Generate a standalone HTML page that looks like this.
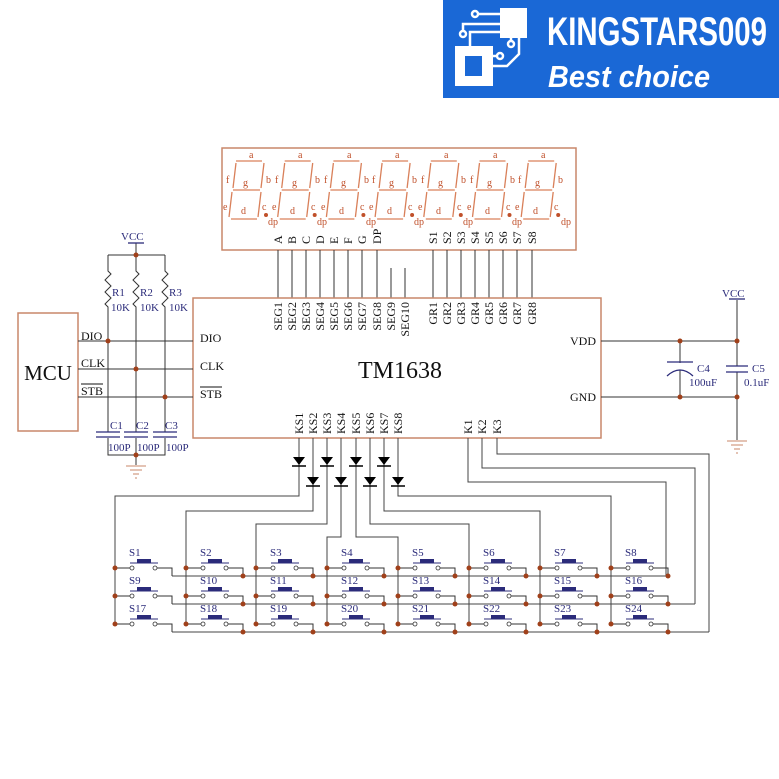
<!DOCTYPE html>
<html><head><meta charset="utf-8"><style>
html,body{margin:0;padding:0;background:#fff;}
svg{display:block;}
.s{font-family:"Liberation Serif",serif;}
</style></head><body>
<svg width="779" height="779" viewBox="0 0 779 779" xmlns="http://www.w3.org/2000/svg">
<defs>
<g id="dg" fill="none" stroke="#d9805a" stroke-width="1.3">
<line x1="236" y1="161" x2="262" y2="161"/>
<line x1="264" y1="163" x2="261" y2="188"/>
<line x1="236" y1="163" x2="233" y2="188"/>
<line x1="233" y1="190" x2="260" y2="190"/>
<line x1="232" y1="192" x2="229" y2="217"/>
<line x1="261" y1="192" x2="258" y2="217"/>
<line x1="231" y1="219" x2="257" y2="219"/>
<circle cx="266" cy="215" r="2" fill="#c0502a" stroke="none"/>
</g>
<g id="sw">
<line x1="0" y1="0" x2="15" y2="0" stroke="#333" stroke-width="1"/>
<circle cx="17" cy="0" r="2" fill="#fff" stroke="#333" stroke-width="0.8"/>
<circle cx="40" cy="0" r="2" fill="#fff" stroke="#333" stroke-width="0.8"/>
<polyline points="42,0 57,0 57,8" fill="none" stroke="#333" stroke-width="1"/>
<rect x="22" y="-9" width="14" height="3.5" fill="#2b2b7a"/>
<line x1="15" y1="-5" x2="43" y2="-5" stroke="#2b2b7a" stroke-width="1"/>
<circle cx="0" cy="0" r="2.5" fill="#a0401a"/>
</g>
<g id="dd">
<polygon points="-6,-5 6,-5 0,3" fill="#000"/>
<line x1="-7" y1="4" x2="7" y2="4" stroke="#000" stroke-width="1.5"/>
</g>
</defs>

<!-- logo -->
<rect x="443" y="0" width="336" height="98" fill="#1a68d6"/>
<rect x="500" y="8" width="27" height="30" fill="#fff"/>
<rect x="455" y="46" width="38" height="40" fill="#fff"/>
<rect x="465" y="56" width="17" height="20" fill="#1a68d6"/>
<g fill="none" stroke="#fff" stroke-width="2.5">
<polyline points="478,14 500,14"/><circle cx="475" cy="14" r="3"/>
<polyline points="463,30 463,24 500,24"/><circle cx="463" cy="34" r="3"/>
<polyline points="470,46 470,32 500,32"/>
<polyline points="511,38 511,42"/><circle cx="511" cy="44" r="3"/>
<polyline points="493,66 507,66 519,54 519,38"/>
<polyline points="493,56 497,56"/><circle cx="500" cy="56" r="3"/>
</g>
<text x="547" y="45" font-family="'Liberation Sans Narrow','Liberation Sans',sans-serif" font-weight="bold" font-size="40" fill="#fff" textLength="220" lengthAdjust="spacingAndGlyphs">KINGSTARS009</text>
<text x="548" y="87" font-family="'Liberation Sans',sans-serif" font-weight="bold" font-style="italic" font-size="31" fill="#fff" textLength="162" lengthAdjust="spacingAndGlyphs">Best choice</text>

<!-- display -->
<rect x="222" y="148" width="354" height="102" fill="none" stroke="#c9876a" stroke-width="1.5"/>
<use href="#dg"/><use href="#dg" x="48.7"/><use href="#dg" x="97.4"/><use href="#dg" x="146.1"/><use href="#dg" x="194.8"/><use href="#dg" x="243.5"/><use href="#dg" x="292.2"/>
<g class="s" font-size="10" fill="#c0502a">
<text x="249" y="158">a</text><text x="226" y="183">f</text><text x="266" y="183">b</text><text x="243" y="186">g</text><text x="223" y="210">e</text><text x="262" y="210">c</text><text x="241" y="214">d</text><text x="268" y="225">dp</text>
<text x="298" y="158">a</text><text x="275" y="183">f</text><text x="315" y="183">b</text><text x="292" y="186">g</text><text x="272" y="210">e</text><text x="311" y="210">c</text><text x="290" y="214">d</text><text x="317" y="225">dp</text>
<text x="347" y="158">a</text><text x="324" y="183">f</text><text x="364" y="183">b</text><text x="341" y="186">g</text><text x="321" y="210">e</text><text x="360" y="210">c</text><text x="339" y="214">d</text><text x="366" y="225">dp</text>
<text x="395" y="158">a</text><text x="372" y="183">f</text><text x="412" y="183">b</text><text x="389" y="186">g</text><text x="369" y="210">e</text><text x="408" y="210">c</text><text x="387" y="214">d</text><text x="414" y="225">dp</text>
<text x="444" y="158">a</text><text x="421" y="183">f</text><text x="461" y="183">b</text><text x="438" y="186">g</text><text x="418" y="210">e</text><text x="457" y="210">c</text><text x="436" y="214">d</text><text x="463" y="225">dp</text>
<text x="493" y="158">a</text><text x="470" y="183">f</text><text x="510" y="183">b</text><text x="487" y="186">g</text><text x="467" y="210">e</text><text x="506" y="210">c</text><text x="485" y="214">d</text><text x="512" y="225">dp</text>
<text x="541" y="158">a</text><text x="518" y="183">f</text><text x="558" y="183">b</text><text x="535" y="186">g</text><text x="515" y="210">e</text><text x="554" y="210">c</text><text x="533" y="214">d</text><text x="561" y="225">dp</text>
</g>
<g class="s" font-size="12" fill="#111">
<text transform="translate(282,244) rotate(-90)">A</text>
<text transform="translate(296,244) rotate(-90)">B</text>
<text transform="translate(310,244) rotate(-90)">C</text>
<text transform="translate(324,244) rotate(-90)">D</text>
<text transform="translate(338,244) rotate(-90)">E</text>
<text transform="translate(352,244) rotate(-90)">F</text>
<text transform="translate(366,244) rotate(-90)">G</text>
<text transform="translate(381,244) rotate(-90)">DP</text>
<text transform="translate(437,244) rotate(-90)">S1</text>
<text transform="translate(451,244) rotate(-90)">S2</text>
<text transform="translate(465,244) rotate(-90)">S3</text>
<text transform="translate(479,244) rotate(-90)">S4</text>
<text transform="translate(493,244) rotate(-90)">S5</text>
<text transform="translate(507,244) rotate(-90)">S6</text>
<text transform="translate(521,244) rotate(-90)">S7</text>
<text transform="translate(536,244) rotate(-90)">S8</text>
</g>
<g stroke="#333" stroke-width="1">
<line x1="278" y1="250" x2="278" y2="298"/><line x1="292" y1="250" x2="292" y2="298"/><line x1="306" y1="250" x2="306" y2="298"/><line x1="320" y1="250" x2="320" y2="298"/><line x1="334" y1="250" x2="334" y2="298"/><line x1="348" y1="250" x2="348" y2="298"/><line x1="362" y1="250" x2="362" y2="298"/><line x1="377" y1="250" x2="377" y2="298"/>
<line x1="391" y1="268" x2="391" y2="298"/><line x1="405" y1="268" x2="405" y2="298"/>
<line x1="433" y1="250" x2="433" y2="298"/><line x1="447" y1="250" x2="447" y2="298"/><line x1="461" y1="250" x2="461" y2="298"/><line x1="475" y1="250" x2="475" y2="298"/><line x1="489" y1="250" x2="489" y2="298"/><line x1="503" y1="250" x2="503" y2="298"/><line x1="517" y1="250" x2="517" y2="298"/><line x1="532" y1="250" x2="532" y2="298"/>
</g>

<!-- chip -->
<rect x="193" y="298" width="408" height="140" fill="none" stroke="#c9876a" stroke-width="1.5"/>
<g class="s" font-size="12" fill="#111" text-anchor="end">
<text transform="translate(282,302) rotate(-90)">SEG1</text>
<text transform="translate(296,302) rotate(-90)">SEG2</text>
<text transform="translate(310,302) rotate(-90)">SEG3</text>
<text transform="translate(324,302) rotate(-90)">SEG4</text>
<text transform="translate(338,302) rotate(-90)">SEG5</text>
<text transform="translate(352,302) rotate(-90)">SEG6</text>
<text transform="translate(366,302) rotate(-90)">SEG7</text>
<text transform="translate(381,302) rotate(-90)">SEG8</text>
<text transform="translate(395,302) rotate(-90)">SEG9</text>
<text transform="translate(409,302) rotate(-90)">SEG10</text>
<text transform="translate(437,302) rotate(-90)">GR1</text>
<text transform="translate(451,302) rotate(-90)">GR2</text>
<text transform="translate(465,302) rotate(-90)">GR3</text>
<text transform="translate(479,302) rotate(-90)">GR4</text>
<text transform="translate(493,302) rotate(-90)">GR5</text>
<text transform="translate(507,302) rotate(-90)">GR6</text>
<text transform="translate(521,302) rotate(-90)">GR7</text>
<text transform="translate(536,302) rotate(-90)">GR8</text>
</g>
<g class="s" font-size="12" fill="#111">
<text transform="translate(303,434) rotate(-90)">KS1</text>
<text transform="translate(317,434) rotate(-90)">KS2</text>
<text transform="translate(331,434) rotate(-90)">KS3</text>
<text transform="translate(345,434) rotate(-90)">KS4</text>
<text transform="translate(360,434) rotate(-90)">KS5</text>
<text transform="translate(374,434) rotate(-90)">KS6</text>
<text transform="translate(388,434) rotate(-90)">KS7</text>
<text transform="translate(402,434) rotate(-90)">KS8</text>
<text transform="translate(472,434) rotate(-90)">K1</text>
<text transform="translate(486,434) rotate(-90)">K2</text>
<text transform="translate(501,434) rotate(-90)">K3</text>
<text x="200" y="342">DIO</text><text x="200" y="370">CLK</text><text x="200" y="398">STB</text>
<text x="81" y="340">DIO</text><text x="81" y="367">CLK</text><text x="81" y="395">STB</text>
<text x="570" y="345">VDD</text><text x="570" y="401">GND</text>
</g>
<line x1="200" y1="387" x2="222" y2="387" stroke="#111"/><line x1="81" y1="384" x2="103" y2="384" stroke="#111"/>
<text x="400" y="378" class="s" font-size="24" text-anchor="middle" fill="#111">TM1638</text>

<!-- MCU -->
<rect x="18" y="313" width="60" height="118" fill="none" stroke="#c9876a" stroke-width="1.5"/>
<text x="48" y="380" class="s" font-size="21" text-anchor="middle" fill="#111">MCU</text>
<g stroke="#333" stroke-width="1" fill="none">
<line x1="78" y1="341" x2="193" y2="341"/><line x1="78" y1="369" x2="193" y2="369"/><line x1="78" y1="397" x2="193" y2="397"/>
<line x1="136" y1="243" x2="136" y2="255"/><line x1="108" y1="255" x2="165" y2="255"/>
<polyline points="108,255 108,271 111,274 105,280 111,286 105,292 111,298 105,304 108,307 108,432"/>
<polyline points="136,255 136,271 139,274 133,280 139,286 133,292 139,298 133,304 136,307 136,432"/>
<polyline points="165,255 165,271 168,274 162,280 168,286 162,292 168,298 162,304 165,307 165,432"/>
<polyline points="108,438 108,455 165,455 165,438"/><line x1="136" y1="438" x2="136" y2="465"/>
</g>
<g stroke="#2b2b7a" stroke-width="1.3">
<line x1="128" y1="243" x2="144" y2="243"/>
<line x1="96" y1="432" x2="120" y2="432"/><line x1="96" y1="437" x2="120" y2="437"/>
<line x1="124" y1="432" x2="148" y2="432"/><line x1="124" y1="437" x2="148" y2="437"/>
<line x1="153" y1="432" x2="177" y2="432"/><line x1="153" y1="437" x2="177" y2="437"/>
</g>
<g stroke="#c9876a" stroke-width="1"><line x1="126" y1="466" x2="146" y2="466"/><line x1="130" y1="470" x2="142" y2="470"/><line x1="133" y1="474" x2="139" y2="474"/><line x1="135" y1="478" x2="137" y2="478"/></g>
<g fill="#a0401a"><circle cx="136" cy="255" r="2.5"/><circle cx="108" cy="341" r="2.5"/><circle cx="136" cy="369" r="2.5"/><circle cx="165" cy="397" r="2.5"/><circle cx="136" cy="455" r="2.5"/></g>
<g class="s" font-size="11" fill="#2b2b7a">
<text x="121" y="240">VCC</text>
<text x="112" y="296">R1</text><text x="140" y="296">R2</text><text x="169" y="296">R3</text>
<text x="111" y="311">10K</text><text x="140" y="311">10K</text><text x="169" y="311">10K</text>
<text x="110" y="429">C1</text><text x="136" y="429">C2</text><text x="165" y="429">C3</text>
<text x="108" y="451">100P</text><text x="137" y="451">100P</text><text x="166" y="451">100P</text>
<text x="722" y="297">VCC</text>
<text x="697" y="372">C4</text><text x="689" y="386">100uF</text>
<text x="752" y="372">C5</text><text x="744" y="386">0.1uF</text>
</g>

<!-- right power -->
<g stroke="#333" stroke-width="1" fill="none">
<line x1="601" y1="341" x2="737" y2="341"/><line x1="601" y1="397" x2="737" y2="397"/>
<line x1="737" y1="300" x2="737" y2="366"/><line x1="737" y1="372" x2="737" y2="440"/>
<line x1="680" y1="341" x2="680" y2="363"/><line x1="680" y1="370" x2="680" y2="397"/>
</g>
<g stroke="#2b2b7a" stroke-width="1.3" fill="none">
<line x1="729" y1="299" x2="745" y2="299"/>
<line x1="667" y1="362" x2="693" y2="362"/><path d="M667,376 Q680,364 693,376"/>
<line x1="726" y1="366" x2="748" y2="366"/><line x1="726" y1="372" x2="748" y2="372"/>
</g>
<g stroke="#c9876a" stroke-width="1"><line x1="727" y1="441" x2="747" y2="441"/><line x1="731" y1="445" x2="743" y2="445"/><line x1="734" y1="449" x2="740" y2="449"/><line x1="736" y1="453" x2="738" y2="453"/></g>
<g fill="#a0401a"><circle cx="680" cy="341" r="2.5"/><circle cx="737" cy="341" r="2.5"/><circle cx="680" cy="397" r="2.5"/><circle cx="737" cy="397" r="2.5"/></g>

<!-- key wiring -->
<g stroke="#444" stroke-width="1" fill="none">
<polyline points="299,438 299,496 115,496 115,625"/>
<polyline points="313,438 313,511 186,511 186,625"/>
<polyline points="327,438 327,524 256,524 256,625"/>
<polyline points="341,438 341,537 327,537 327,625"/>
<polyline points="356,438 356,537 398,537 398,625"/>
<polyline points="370,438 370,524 469,524 469,625"/>
<polyline points="384,438 384,511 540,511 540,625"/>
<polyline points="398,438 398,496 611,496 611,625"/>
<polyline points="468,438 468,482 666,482 666,576"/>
<polyline points="482,438 482,468 695,468 695,604"/>
<polyline points="497,438 497,454 709,454 709,632"/>
<line x1="172" y1="576" x2="666" y2="576"/>
<line x1="172" y1="604" x2="695" y2="604"/>
<line x1="172" y1="632" x2="709" y2="632"/>
</g>
<use href="#dd" x="299" y="462"/><use href="#dd" x="327" y="462"/><use href="#dd" x="356" y="462"/><use href="#dd" x="384" y="462"/>
<use href="#dd" x="313" y="482"/><use href="#dd" x="341" y="482"/><use href="#dd" x="370" y="482"/><use href="#dd" x="398" y="482"/>

<!-- switches -->
<use href="#sw" x="115" y="568"/><use href="#sw" x="186" y="568"/><use href="#sw" x="256" y="568"/><use href="#sw" x="327" y="568"/><use href="#sw" x="398" y="568"/><use href="#sw" x="469" y="568"/><use href="#sw" x="540" y="568"/><use href="#sw" x="611" y="568"/>
<use href="#sw" x="115" y="596"/><use href="#sw" x="186" y="596"/><use href="#sw" x="256" y="596"/><use href="#sw" x="327" y="596"/><use href="#sw" x="398" y="596"/><use href="#sw" x="469" y="596"/><use href="#sw" x="540" y="596"/><use href="#sw" x="611" y="596"/>
<use href="#sw" x="115" y="624"/><use href="#sw" x="186" y="624"/><use href="#sw" x="256" y="624"/><use href="#sw" x="327" y="624"/><use href="#sw" x="398" y="624"/><use href="#sw" x="469" y="624"/><use href="#sw" x="540" y="624"/><use href="#sw" x="611" y="624"/>
<g fill="#a0401a">
<circle cx="243" cy="576" r="2.5"/><circle cx="313" cy="576" r="2.5"/><circle cx="384" cy="576" r="2.5"/><circle cx="455" cy="576" r="2.5"/><circle cx="526" cy="576" r="2.5"/><circle cx="597" cy="576" r="2.5"/><circle cx="668" cy="576" r="2.5"/>
<circle cx="243" cy="604" r="2.5"/><circle cx="313" cy="604" r="2.5"/><circle cx="384" cy="604" r="2.5"/><circle cx="455" cy="604" r="2.5"/><circle cx="526" cy="604" r="2.5"/><circle cx="597" cy="604" r="2.5"/><circle cx="668" cy="604" r="2.5"/>
<circle cx="243" cy="632" r="2.5"/><circle cx="313" cy="632" r="2.5"/><circle cx="384" cy="632" r="2.5"/><circle cx="455" cy="632" r="2.5"/><circle cx="526" cy="632" r="2.5"/><circle cx="597" cy="632" r="2.5"/><circle cx="668" cy="632" r="2.5"/>
</g>
<g class="s" font-size="11" fill="#2b2b7a">
<text x="129" y="556">S1</text><text x="200" y="556">S2</text><text x="270" y="556">S3</text><text x="341" y="556">S4</text><text x="412" y="556">S5</text><text x="483" y="556">S6</text><text x="554" y="556">S7</text><text x="625" y="556">S8</text>
<text x="129" y="584">S9</text><text x="200" y="584">S10</text><text x="270" y="584">S11</text><text x="341" y="584">S12</text><text x="412" y="584">S13</text><text x="483" y="584">S14</text><text x="554" y="584">S15</text><text x="625" y="584">S16</text>
<text x="129" y="612">S17</text><text x="200" y="612">S18</text><text x="270" y="612">S19</text><text x="341" y="612">S20</text><text x="412" y="612">S21</text><text x="483" y="612">S22</text><text x="554" y="612">S23</text><text x="625" y="612">S24</text>
</g>
</svg>
</body></html>
